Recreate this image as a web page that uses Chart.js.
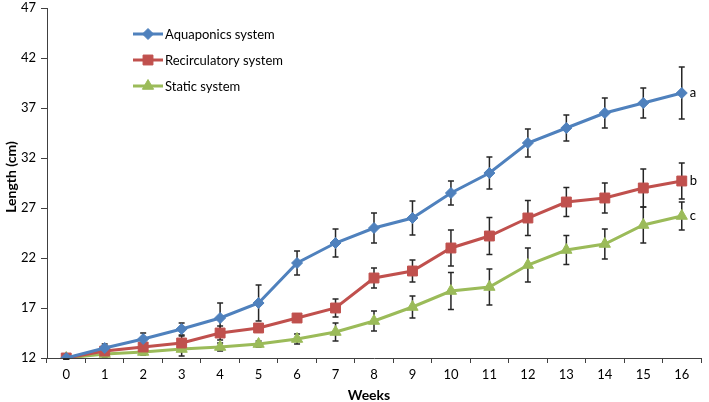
<!DOCTYPE html>
<html><head><meta charset="utf-8">
<script src="https://cdn.jsdelivr.net/npm/chart.js@4.4.1/dist/chart.umd.min.js"></script>
<style>html,body{margin:0;padding:0;background:#fff;}#wrap{width:709px;height:402px;position:relative;}</style>
</head><body><div id="wrap"><canvas id="c" width="709" height="402"></canvas></div>
<script>
const weeks = ['0','1','2','3','4','5','6','7','8','9','10','11','12','13','14','15','16'];
const seriesNames = ['Aquaponics system','Recirculatory system','Static system'];
const aquaponics = [12.0, 13.0, 13.9, 14.9, 16.0, 17.5, 21.5, 23.5, 25.0, 26.0, 28.5, 30.5, 33.5, 35.0, 36.5, 37.5, 38.5];
const aquaponicsErr = [0.1, 0.4, 0.6, 0.6, 1.5, 1.8, 1.2, 1.4, 1.5, 1.7, 1.2, 1.6, 1.4, 1.3, 1.5, 1.5, 2.6];
const recirculatory = [12.0, 12.7, 13.1, 13.5, 14.5, 15.0, 16.0, 17.0, 20.0, 20.7, 23.0, 24.2, 26.0, 27.6, 28.0, 29.0, 29.7];
const recirculatoryErr = [0.1, 0.3, 0.4, 0.7, 0.7, 0.4, 0.4, 0.9, 1.0, 1.1, 1.8, 1.85, 1.75, 1.45, 1.5, 1.9, 1.8];
const staticSys = [12.0, 12.4, 12.6, 12.9, 13.1, 13.4, 13.9, 14.6, 15.7, 17.1, 18.7, 19.1, 21.3, 22.8, 23.4, 25.3, 26.2];
const staticErr = [0.1, 0.3, 0.3, 0.7, 0.4, 0.3, 0.5, 0.9, 1.0, 1.1, 1.85, 1.8, 1.7, 1.45, 1.5, 1.8, 1.4];
const groupLetters = ['a','b','c'];
const xTitle = 'Weeks';
const yTitle = 'Length (cm)';
const yMin = 12, yMax = 47, yStep = 5;

const FONT = "Lato, 'Open Sans', 'Liberation Sans', sans-serif";
const colors = ['#4F81BD', '#C0504D', '#9BBB59'];
const styles = ['rectRot', 'rect', 'triangle'];
const radii = [5.5, 7, 6.5];
const errs = [aquaponicsErr, recirculatoryErr, staticErr];

const errorBarPlugin = {
  id: 'errorBars',
  beforeDatasetsDraw(chart) {
    const ctx = chart.ctx, y = chart.scales.y;
    ctx.save();
    ctx.strokeStyle = '#262626';
    ctx.lineWidth = 1.5;
    chart.data.datasets.forEach((ds, i) => {
      const meta = chart.getDatasetMeta(i);
      meta.data.forEach((pt, j) => {
        const v = ds.data[j], e = errs[i][j];
        const yt = y.getPixelForValue(v + e), yb = y.getPixelForValue(v - e);
        ctx.beginPath();
        ctx.moveTo(pt.x, yt); ctx.lineTo(pt.x, yb);
        ctx.moveTo(pt.x - 3, yt); ctx.lineTo(pt.x + 3, yt);
        ctx.moveTo(pt.x - 3, yb); ctx.lineTo(pt.x + 3, yb);
        ctx.stroke();
      });
    });
    ctx.restore();
  },
  afterDatasetsDraw(chart) {
    const ctx = chart.ctx;
    ctx.save();
    ctx.fillStyle = '#000';
    ctx.font = '13px ' + FONT;
    ctx.textBaseline = 'middle';
    ctx.textAlign = 'left';
    chart.data.datasets.forEach((ds, i) => {
      const meta = chart.getDatasetMeta(i);
      const pt = meta.data[meta.data.length - 1];
      ctx.fillText(groupLetters[i], pt.x + 8, pt.y);
    });
    ctx.restore();
  },
  afterDraw(chart) {
    const ctx = chart.ctx;
    ctx.save();
    const rows = [34, 60, 86];
    chart.data.datasets.forEach((ds, i) => {
      const yy = rows[i];
      ctx.strokeStyle = colors[i];
      ctx.lineWidth = 3;
      ctx.beginPath(); ctx.moveTo(133, yy); ctx.lineTo(163, yy); ctx.stroke();
      ctx.fillStyle = colors[i];
      ctx.strokeStyle = colors[i];
      ctx.lineWidth = 1;
      Chart.helpers.drawPoint(ctx, {pointStyle: styles[i], radius: radii[i], rotation: 0, borderWidth: 1}, 148, yy);
      ctx.fillStyle = '#000';
      ctx.font = '13px ' + FONT;
      ctx.textBaseline = 'middle';
      ctx.textAlign = 'left';
      ctx.fillText(seriesNames[i], 165, yy + 1);
    });
    // axis titles
    ctx.fillStyle = '#000';
    ctx.font = 'bold 14px ' + FONT;
    ctx.textAlign = 'center';
    ctx.textBaseline = 'middle';
    ctx.fillText(xTitle, 369, 395);
    ctx.translate(11, 177);
    ctx.rotate(-Math.PI / 2);
    ctx.fillText(yTitle, 0, 0);
    ctx.restore();
  }
};

const mk = (label, data, i) => ({
  label, data,
  borderColor: colors[i], backgroundColor: colors[i],
  borderWidth: 3, pointStyle: styles[i], pointRadius: radii[i],
  pointBackgroundColor: colors[i], pointBorderColor: colors[i], pointBorderWidth: 1,
  tension: 0, fill: false
});

new Chart(document.getElementById('c'), {
  type: 'line',
  data: {
    labels: weeks,
    datasets: [
      mk(seriesNames[0], aquaponics, 0),
      mk(seriesNames[1], recirculatory, 1),
      mk(seriesNames[2], staticSys, 2)
    ]
  },
  options: {
    responsive: false, animation: false, devicePixelRatio: 1,
    layout: {padding: {top: 5, right: 2, left: 0, bottom: 0}},
    plugins: {legend: {display: false}, tooltip: {enabled: false}},
    scales: {
      x: {
        type: 'category', offset: true,
        grid: {display: true, drawOnChartArea: false, drawTicks: true, tickLength: 5, offset: true, color: '#404040'},
        border: {display: true, color: '#404040', width: 1},
        ticks: {color: '#000', font: {size: 13, family: FONT}, padding: 4, maxRotation: 0, autoSkip: false},
        title: {display: false},
        afterFit(s) { s.height = 44; s.paddingRight = 0; s.paddingLeft = 0; }
      },
      y: {
        min: yMin, max: yMax,
        grid: {display: true, drawOnChartArea: false, drawTicks: true, tickLength: 6, color: '#404040'},
        border: {display: true, color: '#404040', width: 1},
        ticks: {stepSize: yStep, color: '#000', font: {size: 13, family: FONT}, padding: 5},
        title: {display: false},
        afterFit(s) { s.width = 47; s.paddingTop = 0; s.paddingBottom = 0; }
      }
    }
  },
  plugins: [errorBarPlugin]
});
</script></body></html>
